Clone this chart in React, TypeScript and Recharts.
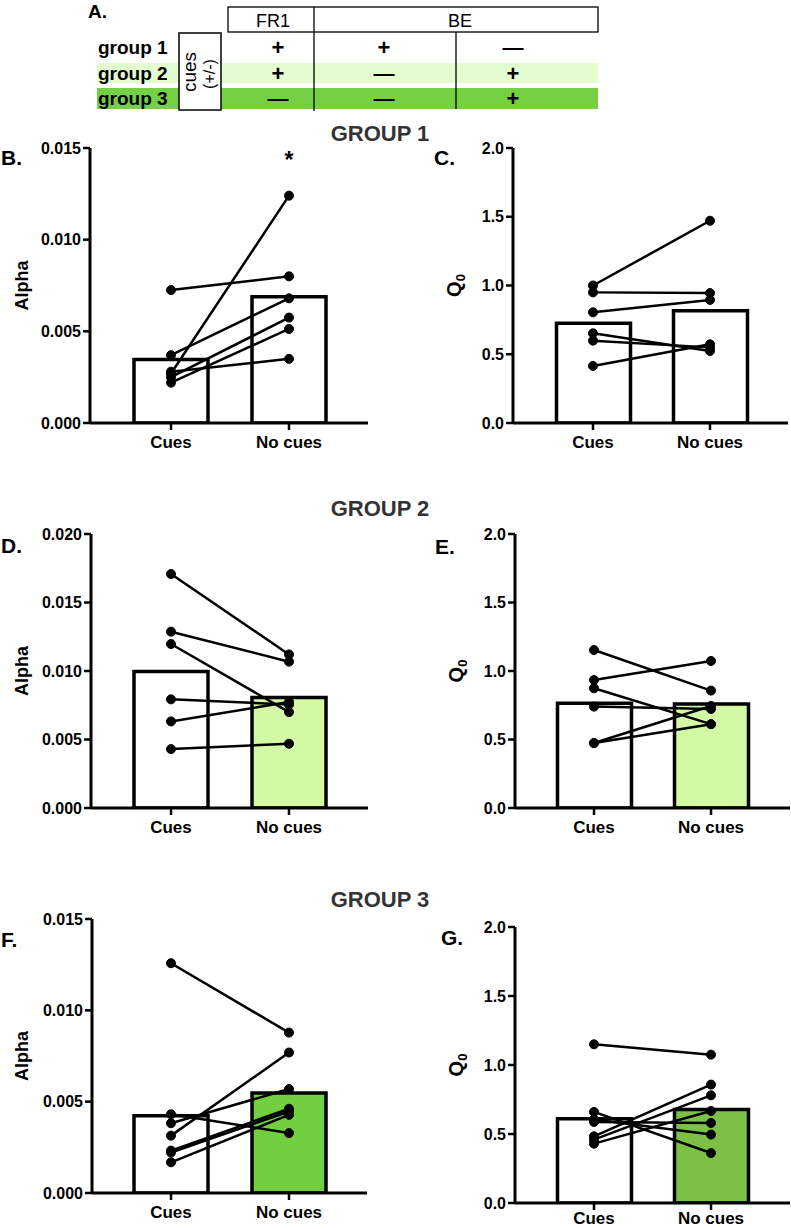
import React from "react";
import { ComposedChart, Bar, Line, XAxis, YAxis, Cell } from "recharts";

const FONT = '"Liberation Sans", Arial, Helvetica, sans-serif';

// ---- data ----
const categories = ["Cues", "No cues"];

const g1AlphaCues = [0.00725, 0.0037, 0.0027, 0.0028, 0.0025, 0.0022];
const g1AlphaNoCues = [0.008, 0.0068, 0.0124, 0.0035, 0.00575, 0.00513];
const g1AlphaMeans = [0.00347, 0.00689];
const g1AlphaSig = ["", "*"];

const g1Q0Cues = [1.0, 0.95, 0.805, 0.652, 0.599, 0.415];
const g1Q0NoCues = [1.471, 0.945, 0.895, 0.524, 0.55, 0.572];
const g1Q0Means = [0.725, 0.817];

const g2AlphaCues = [0.01708, 0.01287, 0.01197, 0.00793, 0.00632, 0.0043];
const g2AlphaNoCues = [0.01121, 0.01068, 0.007, 0.00755, 0.00774, 0.00469];
const g2AlphaMeans = [0.00997, 0.00807];

const g2Q0Cues = [1.153, 0.934, 0.874, 0.74, 0.474, 0.474];
const g2Q0NoCues = [0.857, 1.073, 0.612, 0.723, 0.745, 0.612];
const g2Q0Means = [0.765, 0.76];

const g3AlphaCues = [0.01258, 0.00431, 0.00382, 0.00314, 0.00232, 0.00222, 0.00168];
const g3AlphaNoCues = [0.00878, 0.00328, 0.00569, 0.00769, 0.00461, 0.00446, 0.00428];
const g3AlphaMeans = [0.00423, 0.00547];

const g3Q0Cues = [1.15, 0.66, 0.605, 0.587, 0.483, 0.459, 0.43];
const g3Q0NoCues = [1.075, 0.362, 0.496, 0.58, 0.858, 0.78, 0.667];
const g3Q0Means = [0.61, 0.677];

const alphaTicks15 = [0, 0.005, 0.01, 0.015];
const alphaTicks20 = [0, 0.005, 0.01, 0.015, 0.02];
const q0Ticks = [0, 0.5, 1, 1.5, 2];

// design table (panel A)
const groupNames = ["group 1", "group 2", "group 3"];
const fr1Cues = ["+", "+", "—"];
const be1Cues = ["+", "—", "—"];
const be2Cues = ["—", "+", "+"];
const groupTitles = ["GROUP 1", "GROUP 2", "GROUP 3"];

// colours
const WHITE = "#ffffff";
const LIGHT_GREEN = "#d4f9a5";
const ROW2_BG = "#e3fcd0";
const ROW3_BG = "#76d043";
const GREEN_F = "#73cf40";
const GREEN_G = "#7cc146";

type Layout = {
  axisX: number;
  top: number;
  bottom: number;
  right: number;
  c1: number;
  c2: number;
  rightMargin: number;
  labelGap?: number;
};

const Y_W = 80;
const MT = 12;
const XH = 40;

function AxisTitle(props: any) {
  const { viewBox, title, dx } = props;
  const bx = viewBox.x + viewBox.width - dx;
  const cy = viewBox.y + viewBox.height / 2;
  return (
    <text
      x={bx}
      y={cy}
      transform={`rotate(-90 ${bx} ${cy})`}
      textAnchor="middle"
      fontFamily={FONT}
      fontWeight={700}
      fontSize={title === "Q0" ? 20 : 18}
      fill="#000"
    >
      {title === "Q0" ? (
        <>
          <tspan>Q</tspan>
          <tspan fontSize={13} dy={4}>0</tspan>
        </>
      ) : (
        title
      )}
    </text>
  );
}

function Panel(props: {
  layout: Layout;
  cues: number[];
  noCues: number[];
  means: number[];
  ticks: number[];
  decimals: number;
  fills: string[];
  title: string;
  titleDx: number;
  sig?: string[];
}) {
  const { layout, cues, noCues, means, ticks, decimals, fills, title, titleDx, sig } = props;
  const plotW = layout.right - layout.axisX;
  const band = layout.c2 - layout.c1;
  const padL = layout.c1 - layout.axisX - band / 2;
  const padR = plotW - padL - 2 * band;
  const width = Y_W + plotW + layout.rightMargin;
  const height = MT + (layout.bottom - layout.top) + XH;

  const data = categories.map((name, ci) => {
    const row: any = { name, mean: means[ci] };
    (ci === 0 ? cues : noCues).forEach((v, i) => (row[`s${i}`] = v));
    return row;
  });

  const renderSig = (p: any) => {
    const { x, width: w, index } = p;
    if (!sig || !sig[index]) return null;
    return (
      <text
        x={x + w / 2}
        y={MT + 20}
        textAnchor="middle"
        fontFamily={FONT}
        fontWeight={700}
        fontSize={23}
        fill="#000"
      >
        {sig[index]}
      </text>
    );
  };

  const tickStyle = { fill: "#000", fontSize: 16, fontWeight: 700, fontFamily: FONT };

  return (
    <div
      style={{
        position: "absolute",
        left: layout.axisX - Y_W,
        top: layout.top - MT,
        width,
        height,
      }}
    >
      <ComposedChart
        width={width}
        height={height}
        data={data}
        margin={{ top: MT, right: layout.rightMargin, bottom: 0, left: 0 }}
      >
        <XAxis
          dataKey="name"
          interval={0}
          height={XH}
          padding={{ left: padL, right: padR }}
          axisLine={{ stroke: "#000", strokeWidth: 3 }}
          tickLine={{ stroke: "#000", strokeWidth: 2.5 }}
          tickSize={7}
          tickMargin={layout.labelGap ?? 6}
          tick={{ ...tickStyle, fontSize: 17 }}
        />
        <YAxis
          width={Y_W}
          domain={[ticks[0], ticks[ticks.length - 1]]}
          ticks={ticks}
          interval={0}
          allowDataOverflow
          tickFormatter={(v: number) => v.toFixed(decimals)}
          axisLine={{ stroke: "#000", strokeWidth: 3 }}
          tickLine={{ stroke: "#000", strokeWidth: 2.5 }}
          tickSize={7}
          tickMargin={2}
          tick={tickStyle}
          label={<AxisTitle title={title} dx={titleDx} />}
        />
        <Bar
          dataKey="mean"
          barSize={74}
          stroke="#000"
          strokeWidth={3.5}
          isAnimationActive={false}
          label={sig ? renderSig : undefined}
        >
          {data.map((_, i) => (
            <Cell key={`c-${i}`} fill={fills[i]} />
          ))}
        </Bar>
        {cues.map((_, i) => (
          <Line
            key={`s-${i}`}
            type="linear"
            dataKey={`s${i}`}
            stroke="#000"
            strokeWidth={2.5}
            dot={{ r: 4.5, fill: "#000", stroke: "#000", strokeWidth: 1 }}
            activeDot={false}
            isAnimationActive={false}
          />
        ))}
      </ComposedChart>
    </div>
  );
}

function DesignTable() {
  const rowCenters = [47, 73, 98];
  const colX = [278, 384, 513];
  const cols = [fr1Cues, be1Cues, be2Cues];
  const txt = { fontFamily: FONT, fill: "#000" };
  return (
    <g>
      <text x={88} y={18} {...txt} fontWeight={700} fontSize={19}>A.</text>
      <rect x={97} y={63} width={501} height={20} fill={ROW2_BG} />
      <rect x={97} y={88} width={501} height={21} fill={ROW3_BG} />
      <rect x={228} y={7} width={370} height={25} fill="none" stroke="#000" strokeWidth={1.3} />
      <line x1={314} y1={7} x2={314} y2={111} stroke="#000" strokeWidth={1.3} />
      <line x1={456} y1={32} x2={456} y2={109} stroke="#000" strokeWidth={1.3} />
      <text x={273} y={27} textAnchor="middle" {...txt} fontSize={18}>FR1</text>
      <text x={460} y={27} textAnchor="middle" {...txt} fontSize={18}>BE</text>
      <rect x={179} y={33} width={42} height={77} fill="#fff" stroke="#000" strokeWidth={1.5} />
      <text
        x={196}
        y={72}
        transform="rotate(-90 196 72)"
        textAnchor="middle"
        {...txt}
        fontSize={19}
      >
        cues
      </text>
      <text
        x={215}
        y={74}
        transform="rotate(-90 215 74)"
        textAnchor="middle"
        {...txt}
        fontSize={16}
      >
        (+/-)
      </text>
      {groupNames.map((g, r) => (
        <text key={g} x={98} y={rowCenters[r] + 7} {...txt} fontWeight={700} fontSize={19}>
          {g}
        </text>
      ))}
      {cols.map((col, c) =>
        col.map((s, r) => (
          <text
            key={`${c}-${r}`}
            x={colX[c]}
            y={rowCenters[r] + (s === "+" ? 8 : 7)}
            textAnchor="middle"
            {...txt}
            fontWeight={700}
            fontSize={s === "+" ? 22 : 21}
          >
            {s}
          </text>
        ))
      )}
    </g>
  );
}

const titleY = [141, 516, 907];
const letters = [
  { t: "B.", x: 1, y: 165 },
  { t: "C.", x: 434, y: 165 },
  { t: "D.", x: 1, y: 553 },
  { t: "E.", x: 435, y: 554 },
  { t: "F.", x: 1, y: 947 },
  { t: "G.", x: 441, y: 945 },
];

export default function App() {
  return (
    <div
      style={{
        position: "absolute",
        left: 0,
        top: 0,
        width: 791,
        height: 1229,
        overflow: "hidden",
        background: "#fff",
      }}
    >
      <svg width={791} height={1229} style={{ position: "absolute", left: 0, top: 0 }}>
        <DesignTable />
        {groupTitles.map((t, i) => (
          <text
            key={t}
            x={380}
            y={titleY[i]}
            textAnchor="middle"
            fontFamily={FONT}
            fontWeight={700}
            fontSize={22}
            fill="#333"
          >
            {t}
          </text>
        ))}
        {letters.map((l) => (
          <text key={l.t} x={l.x} y={l.y} fontFamily={FONT} fontWeight={700} fontSize={21} fill="#000">
            {l.t}
          </text>
        ))}
      </svg>

      <Panel
        layout={{ axisX: 90, top: 148, bottom: 423, right: 368, c1: 171, c2: 289, rightMargin: 8 }}
        cues={g1AlphaCues}
        noCues={g1AlphaNoCues}
        means={g1AlphaMeans}
        ticks={alphaTicks15}
        decimals={3}
        fills={[WHITE, WHITE]}
        title="Alpha"
        titleDx={62}
        sig={g1AlphaSig}
      />
      <Panel
        layout={{ axisX: 513, top: 148, bottom: 423, right: 788, c1: 593, c2: 710, rightMargin: 1 }}
        cues={g1Q0Cues}
        noCues={g1Q0NoCues}
        means={g1Q0Means}
        ticks={q0Ticks}
        decimals={1}
        fills={[WHITE, WHITE]}
        title="Q0"
        titleDx={52}
      />
      <Panel
        layout={{ axisX: 91, top: 534, bottom: 808, right: 368, c1: 171, c2: 289, rightMargin: 8 }}
        cues={g2AlphaCues}
        noCues={g2AlphaNoCues}
        means={g2AlphaMeans}
        ticks={alphaTicks20}
        decimals={3}
        fills={[WHITE, LIGHT_GREEN]}
        title="Alpha"
        titleDx={63}
      />
      <Panel
        layout={{ axisX: 515, top: 534, bottom: 808, right: 790, c1: 594, c2: 711, rightMargin: 1 }}
        cues={g2Q0Cues}
        noCues={g2Q0NoCues}
        means={g2Q0Means}
        ticks={q0Ticks}
        decimals={1}
        fills={[WHITE, LIGHT_GREEN]}
        title="Q0"
        titleDx={52}
      />
      <Panel
        layout={{ axisX: 92, top: 919, bottom: 1193, right: 367, c1: 171, c2: 289, rightMargin: 8 }}
        cues={g3AlphaCues}
        noCues={g3AlphaNoCues}
        means={g3AlphaMeans}
        ticks={alphaTicks15}
        decimals={3}
        fills={[WHITE, GREEN_F]}
        title="Alpha"
        titleDx={64}
      />
      <Panel
        layout={{ axisX: 515, top: 927, bottom: 1203, right: 790, c1: 594, c2: 711, rightMargin: 1, labelGap: 2 }}
        cues={g3Q0Cues}
        noCues={g3Q0NoCues}
        means={g3Q0Means}
        ticks={q0Ticks}
        decimals={1}
        fills={[WHITE, GREEN_G]}
        title="Q0"
        titleDx={52}
      />
    </div>
  );
}
